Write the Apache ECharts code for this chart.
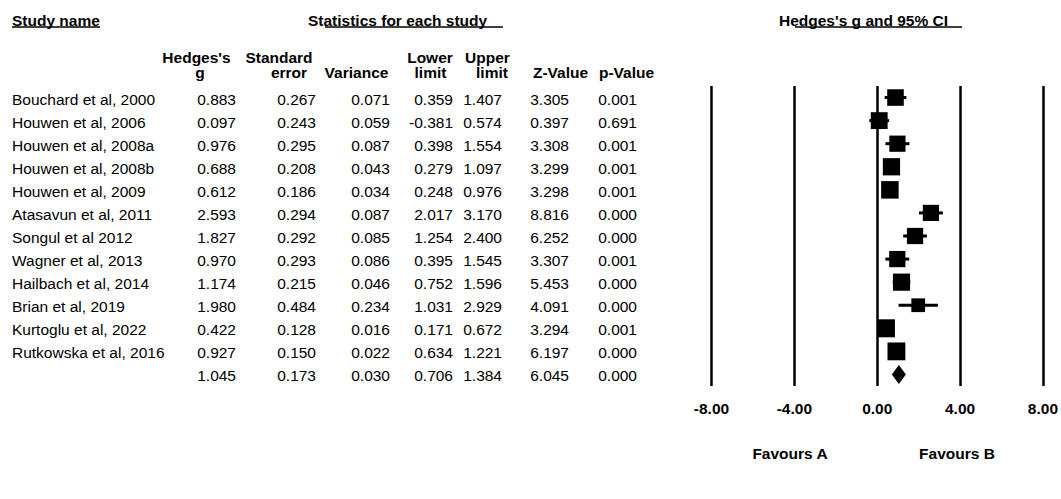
<!DOCTYPE html>
<html>
<head>
<meta charset="utf-8">
<title>Hedges's g forest plot</title>
<style>
  html, body { margin: 0; padding: 0; background: #fff; }
  #chart { width: 1061px; height: 499px; }
</style>
<script src="https://cdn.jsdelivr.net/npm/echarts@6/dist/echarts.min.js"></script>
</head>
<body>
<div id="chart"></div>
<script>
// rows: 12 studies + pooled estimate (blank name)
const studies = [
  'Bouchard et al, 2000', 'Houwen et al, 2006', 'Houwen et al, 2008a', 'Houwen et al, 2008b',
  'Houwen et al, 2009', 'Atasavun et al, 2011', 'Songul et al 2012', 'Wagner et al, 2013',
  'Hailbach et al, 2014', 'Brian et al, 2019', 'Kurtoglu et al, 2022', 'Rutkowska et al, 2016', ''
]
const hedgesG   = [0.883, 0.097, 0.976, 0.688, 0.612, 2.593, 1.827, 0.970, 1.174, 1.980, 0.422, 0.927, 1.045]
const stdError  = [0.267, 0.243, 0.295, 0.208, 0.186, 0.294, 0.292, 0.293, 0.215, 0.484, 0.128, 0.150, 0.173]
const variance  = [0.071, 0.059, 0.087, 0.043, 0.034, 0.087, 0.085, 0.086, 0.046, 0.234, 0.016, 0.022, 0.030]
const lowerLim  = [0.359, -0.381, 0.398, 0.279, 0.248, 2.017, 1.254, 0.395, 0.752, 1.031, 0.171, 0.634, 0.706]
const upperLim  = [1.407, 0.574, 1.554, 1.097, 0.976, 3.170, 2.400, 1.545, 1.596, 2.929, 0.672, 1.221, 1.384]
const zValue    = [3.305, 0.397, 3.308, 3.299, 3.298, 8.816, 6.252, 3.307, 5.453, 4.091, 3.294, 6.197, 6.045]
const pValue    = [0.001, 0.691, 0.001, 0.001, 0.001, 0.000, 0.000, 0.001, 0.000, 0.000, 0.001, 0.000, 0.000]
const xTicks    = [-8, -4, 0, 4, 8]
const tau2 = 0.29 // between-study variance, used for the box weights

const nStudies = studies.length - 1
const pooled = nStudies
const rowCats = studies.map((_, i) => String(i))

// table columns (right edge in px)
const FONT = '"Liberation Sans", Arial, Helvetica, sans-serif'
const FS = 15.5
const columns = [
  { vals: hedgesG, right: 236 },
  { vals: stdError, right: 316 },
  { vals: variance, right: 390 },
  { vals: lowerLim, right: 453 },
  { vals: upperLim, right: 502 },
  { vals: zValue, right: 569 },
  { vals: pValue, right: 637 }
]

// box size: area proportional to random-effects weight
const weights = variance.slice(0, nStudies).map(v => 1 / (v + tau2))
const wMax = Math.max(...weights)
const boxSize = weights.map(w => 18 * Math.sqrt(w / wMax))

const headText = (text, x, y, align) => ({
  type: 'text', x, y,
  style: { text, font: `bold ${FS}px ${FONT}`, fill: '#000', align: align || 'center', verticalAlign: 'middle' }
})
const uline = (x1, x2, y) => ({
  type: 'line', shape: { x1, y1: y, x2, y2: y }, style: { stroke: '#000', lineWidth: 1.5 }
})

const chart = echarts.init(document.getElementById('chart'), null, { renderer: 'svg' })

chart.setOption({
  animation: false,
  backgroundColor: '#fff',
  grid: [
    { left: 0, top: 86, width: 1061, height: 300 },
    { left: 711.5, top: 86, width: 332, height: 300 }
  ],
  xAxis: [
    { gridIndex: 0, type: 'value', min: 0, max: 1061, show: false },
    {
      gridIndex: 1, type: 'value',
      min: xTicks[0], max: xTicks[xTicks.length - 1], interval: xTicks[1] - xTicks[0],
      axisLine: { show: false }, axisTick: { show: false },
      splitLine: { show: true, lineStyle: { color: '#000', width: 2.5 } },
      axisLabel: {
        margin: 14, color: '#000', fontWeight: 'bold', fontSize: FS, fontFamily: FONT,
        formatter: v => v.toFixed(2)
      }
    }
  ],
  yAxis: [
    { gridIndex: 0, type: 'category', data: rowCats, inverse: true, show: false },
    { gridIndex: 1, type: 'category', data: rowCats, inverse: true, show: false }
  ],
  graphic: [
    headText('Study name', 12, 20, 'left'),
    uline(12, 100, 27),
    headText('Statistics for each study', 308, 20, 'left'),
    uline(325, 503, 27),
    headText("Hedges's g and 95% CI", 779, 20, 'left'),
    uline(795, 962, 27),

    headText("Hedges's", 196.5, 57.5),
    headText('g', 200, 72.5),
    headText('Standard', 279, 57.5),
    headText('error', 289, 72.5),
    headText('Variance', 356.5, 72.5),
    headText('Lower', 430, 57.5),
    headText('limit', 430.5, 72.5),
    headText('Upper', 487.5, 57.5),
    headText('limit', 492, 72.5),
    headText('Z-Value', 560.5, 72.5),
    headText('p-Value', 626.5, 72.5),

    headText('Favours A', 790, 453),
    headText('Favours B', 957, 453)
  ],
  series: [
    {
      // statistics table
      type: 'custom',
      xAxisIndex: 0, yAxisIndex: 0,
      data: studies.map((_, i) => [0, i]),
      encode: { x: 0, y: 1 },
      renderItem: (params, api) => {
        const i = api.value(1)
        const y = api.coord([0, i])[1] + 1.5
        const children = [{
          type: 'text',
          style: { text: studies[i], x: api.coord([12, i])[0], y, font: `${FS}px ${FONT}`, fill: '#000', verticalAlign: 'middle' }
        }]
        columns.forEach(c => {
          children.push({
            type: 'text',
            style: {
              text: c.vals[i].toFixed(3), x: api.coord([c.right, i])[0], y,
              font: `${FS}px ${FONT}`, fill: '#000', align: 'right', verticalAlign: 'middle'
            }
          })
        })
        return { type: 'group', children }
      }
    },
    {
      // confidence interval whiskers
      type: 'custom',
      xAxisIndex: 1, yAxisIndex: 1,
      data: studies.slice(0, nStudies).map((_, i) => [lowerLim[i], upperLim[i], i]),
      encode: { x: [0, 1], y: 2 },
      renderItem: (params, api) => {
        const a = api.coord([api.value(0), api.value(2)])
        const b = api.coord([api.value(1), api.value(2)])
        return {
          type: 'line',
          shape: { x1: a[0], y1: a[1], x2: b[0], y2: b[1] },
          style: { stroke: '#000', lineWidth: 3 }
        }
      }
    },
    {
      // study boxes
      type: 'scatter',
      xAxisIndex: 1, yAxisIndex: 1,
      symbol: 'rect',
      symbolSize: (val, p) => boxSize[p.dataIndex],
      itemStyle: { color: '#000', opacity: 1 },
      data: studies.slice(0, nStudies).map((_, i) => [hedgesG[i], i]),
      z: 3
    },
    {
      // pooled estimate diamond
      type: 'custom',
      xAxisIndex: 1, yAxisIndex: 1,
      data: [[lowerLim[pooled], upperLim[pooled], hedgesG[pooled], pooled]],
      encode: { x: [0, 1, 2], y: 3 },
      renderItem: (params, api) => {
        const row = api.value(3)
        const lo = api.coord([api.value(0), row])
        const hi = api.coord([api.value(1), row])
        const mid = api.coord([api.value(2), row])
        const h = 9.5
        return {
          type: 'polygon',
          shape: { points: [[lo[0], lo[1]], [mid[0], mid[1] - h], [hi[0], hi[1]], [mid[0], mid[1] + h]] },
          style: { fill: '#000' }
        }
      },
      z: 3
    }
  ]
})
</script>
</body>
</html>
